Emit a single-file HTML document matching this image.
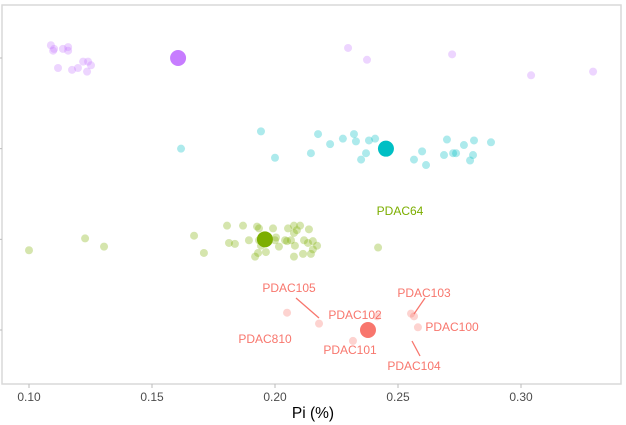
<!DOCTYPE html>
<html><head><meta charset="utf-8"><style>
body{margin:0;background:#fff;}
svg{display:block;font-family:"Liberation Sans",sans-serif;}
</style></head><body>
<svg id="chart" width="626" height="425">
<rect x="2" y="5" width="619" height="379" fill="#fff" stroke="#d9d9d9" stroke-width="1.5"/>
<g id="marks"></g>
<g id="axis"></g>
<text x="313" y="418" text-anchor="middle" font-size="15.5" fill="#000">Pi (%)</text>
</svg>
<script>
const groups = ["red", "green", "cyan", "purple"];
const colors = ["#F8766D", "#7CAE00", "#00BFC4", "#C77CFF"];
const meanPi = [0.2378, 0.1959, 0.2451, 0.1606];
const redPi = [0.2049,0.2179,0.2317,0.2415,0.2553,0.2565,0.2581];
const redJit = [-0.19,-0.07,0.12,-0.15,-0.18,-0.15,-0.03];
const greenPi = [0.1671,0.1711,0.1805,0.1870,0.1813,0.1837,0.1894,0.1927,0.1935,0.1935,0.1943,0.1931,0.1919,0.1963,0.1992,0.2004,0.2000,0.2016,0.2041,0.2049,0.2053,0.2077,0.2102,0.2077,0.2089,0.2065,0.2081,0.2077,0.2118,0.2138,0.2134,0.2154,0.2171,0.2154,0.2114,0.2146,0.1000,0.1228,0.1305,0.2419];
const greenJit = [-0.04,0.15,-0.15,-0.15,0.04,0.05,0.01,-0.14,-0.12,0.01,0.07,0.15,0.19,0.14,-0.12,-0.02,0.01,0.08,0.01,0.02,-0.12,-0.15,-0.15,-0.07,-0.10,0.01,0.07,0.19,0.01,-0.11,0.04,0.02,0.07,0.11,0.16,0.16,0.12,-0.01,0.08,0.09];
const cyanPi = [0.1618,0.1943,0.2000,0.2146,0.2175,0.2224,0.2276,0.2321,0.2329,0.2382,0.2407,0.2370,0.2350,0.2565,0.2598,0.2614,0.2687,0.2699,0.2724,0.2736,0.2768,0.2809,0.2805,0.2793,0.2878];
const cyanJit = [0,-0.19,0.10,0.05,-0.16,-0.05,-0.11,-0.16,-0.08,-0.09,-0.11,0.05,0.12,0.12,0.03,0.18,0.07,-0.10,0.05,0.05,-0.04,-0.09,0.07,0.13,-0.07];
const purplePi = [0.1089,0.1102,0.1098,0.1138,0.1159,0.1159,0.1118,0.1175,0.1199,0.1220,0.1240,0.1252,0.1236,0.2297,0.2374,0.2720,0.3041,0.3293];
const purpleJit = [-0.14,-0.10,-0.08,-0.10,-0.12,-0.08,0.11,0.13,0.11,0.04,0.04,0.08,0.15,-0.11,0.02,-0.04,0.19,0.15];
const xTicks = [0.10, 0.15, 0.20, 0.25, 0.30];
const xTickLabels = ["0.10", "0.15", "0.20", "0.25", "0.30"];

const ns = "http://www.w3.org/2000/svg";
function xs(v){ return 29 + (v - 0.1) * 2460; }
function ys(level, jit){ return 330 - level * 90.67 + jit * 91; }
const marks = document.getElementById('marks');
const axis = document.getElementById('axis');
function circ(cx, cy, r, fill, op, name){
  const c = document.createElementNS(ns, 'circle');
  c.setAttribute('cx', cx); c.setAttribute('cy', cy); c.setAttribute('r', r);
  c.setAttribute('fill', fill); c.setAttribute('fill-opacity', op);
  
  
  marks.appendChild(c);
}
const pis = [redPi, greenPi, cyanPi, purplePi];
const jits = [redJit, greenJit, cyanJit, purpleJit];
for (let g = 0; g < 4; g++) {
  for (let i = 0; i < pis[g].length; i++) {
    circ(xs(pis[g][i]), ys(g, jits[g][i]), 4, colors[g], 0.32, groups[g] + '-sample-point');
  }
}
for (let g = 0; g < 4; g++) {
  circ(xs(meanPi[g]), ys(g, 0), 8, colors[g], 1, groups[g] + '-mean-point');
}
for (let g = 0; g < 4; g++) {
  const l = document.createElementNS(ns, 'line');
  l.setAttribute('x1', -1); l.setAttribute('x2', 2);
  l.setAttribute('y1', ys(g, 0)); l.setAttribute('y2', ys(g, 0));
  l.setAttribute('stroke', '#bbb');
  
  
  axis.appendChild(l);
}
for (let i = 0; i < xTicks.length; i++) {
  const x = xs(xTicks[i]);
  const l = document.createElementNS(ns, 'line');
  l.setAttribute('x1', x); l.setAttribute('x2', x);
  l.setAttribute('y1', 384); l.setAttribute('y2', 388);
  l.setAttribute('stroke', '#bbb');
  
  
  axis.appendChild(l);
  const t = document.createElementNS(ns, 'text');
  t.setAttribute('x', x); t.setAttribute('y', 401);
  t.setAttribute('text-anchor', 'middle'); t.setAttribute('font-size', '12');
  t.setAttribute('fill', '#4d4d4d');
  t.textContent = xTickLabels[i];
  
  
  axis.appendChild(t);
}
const labels = [
  ["PDAC64", 400, 215, "#7CAE00"],
  ["PDAC105", 289, 292, "#F8766D"],
  ["PDAC102", 355, 319, "#F8766D"],
  ["PDAC810", 265, 343, "#F8766D"],
  ["PDAC101", 350, 354, "#F8766D"],
  ["PDAC103", 424, 297, "#F8766D"],
  ["PDAC100", 452, 331, "#F8766D"],
  ["PDAC104", 414, 370, "#F8766D"]
];
for (const [txt, x, y, c] of labels) {
  const t = document.createElementNS(ns, 'text');
  t.setAttribute('x', x); t.setAttribute('y', y);
  t.setAttribute('text-anchor', 'middle'); t.setAttribute('font-size', '12');
  t.setAttribute('fill', c);
  t.textContent = txt;
  
  
  marks.appendChild(t);
}
const segs = [[296,298,319,318],[414,314,425,298],[412,341,420,356]];
for (const [x1,y1,x2,y2] of segs) {
  const l = document.createElementNS(ns, 'line');
  l.setAttribute('x1', x1); l.setAttribute('y1', y1);
  l.setAttribute('x2', x2); l.setAttribute('y2', y2);
  l.setAttribute('stroke', '#F8766D'); l.setAttribute('stroke-width', '1.3');
  
  
  marks.appendChild(l);
}
</script>
</body></html>
